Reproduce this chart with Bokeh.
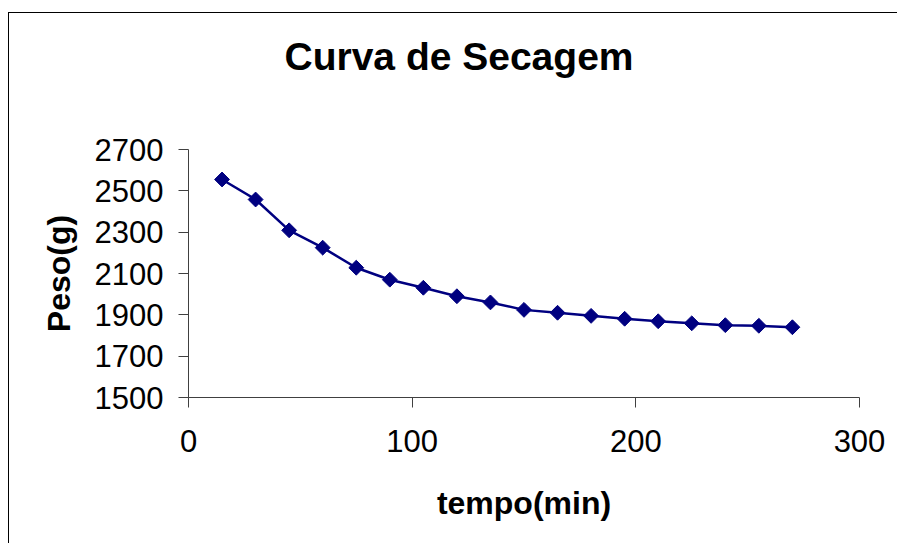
from bokeh.plotting import figure
from bokeh.models import FixedTicker, Range1d, Title
from bokeh.embed import file_html
from bokeh.resources import INLINE
import math

# Data
tempo_min = [15, 30, 45, 60, 75, 90, 105, 120, 135, 150, 165, 180, 195, 210, 225, 240, 255, 270]
peso_g = [2555, 2458, 2309, 2225, 2128, 2070, 2031, 1990, 1960, 1924, 1910, 1895, 1881, 1869, 1859, 1850, 1847, 1840]
x_ticks = [0, 100, 200, 300]
y_ticks = [1500, 1700, 1900, 2100, 2300, 2500, 2700]
title_text = "Curva de Secagem"

FONT = "Liberation Sans"
NAVY = "#000080"

p = figure(width=889, height=531, output_backend="svg", toolbar_location=None,
           x_range=Range1d(0, 300), y_range=Range1d(1500, 2700),
           min_border_left=179, min_border_right=39, min_border_top=136, min_border_bottom=147)
p.styles = {"border-top": "1px solid black", "border-left": "1px solid black",
            "margin-top": "12px", "margin-left": "8px"}

# empty spacer between frame and title, then the title itself
spacer = Title(text=" ", text_font_size="1px", standoff=69)
main_title = Title(text=title_text, text_font=FONT, text_font_size="39px",
                   text_font_style="bold", text_color="black", align="left",
                   offset=96, standoff=0, vertical_align="bottom")
p.add_layout(spacer, "above")
p.add_layout(main_title, "above")

p.grid.visible = False
p.outline_line_color = None
p.background_fill_color = "white"
p.border_fill_color = "white"

for ax in (p.xaxis[0], p.yaxis[0]):
    ax.axis_line_color = "#404040"
    ax.axis_line_width = 1
    ax.major_tick_line_color = "#404040"
    ax.major_tick_in = 0
    ax.major_tick_out = 10
    ax.minor_tick_line_color = None
    ax.major_label_text_font = FONT
    ax.major_label_text_font_size = "31px"
    ax.major_label_text_color = "black"
    ax.axis_label_text_font = FONT
    ax.axis_label_text_font_size = "32px"
    ax.axis_label_text_font_style = "bold"
    ax.axis_label_text_color = "black"

p.xaxis[0].ticker = FixedTicker(ticks=x_ticks)
p.yaxis[0].ticker = FixedTicker(ticks=y_ticks)
p.xaxis[0].axis_label = "tempo(min)"
p.yaxis[0].axis_label = "Peso(g)"
p.xaxis[0].major_label_standoff = 22
p.yaxis[0].major_label_standoff = 15
p.xaxis[0].axis_label_standoff = 30
p.yaxis[0].axis_label_standoff = 15

p.line(tempo_min, peso_g, line_color=NAVY, line_width=2.5)
p.scatter(tempo_min, peso_g, marker="square", angle=math.pi / 4, size=10.5,
          fill_color=NAVY, line_color=NAVY)

open("out.html", "w").write(file_html(p, INLINE))
